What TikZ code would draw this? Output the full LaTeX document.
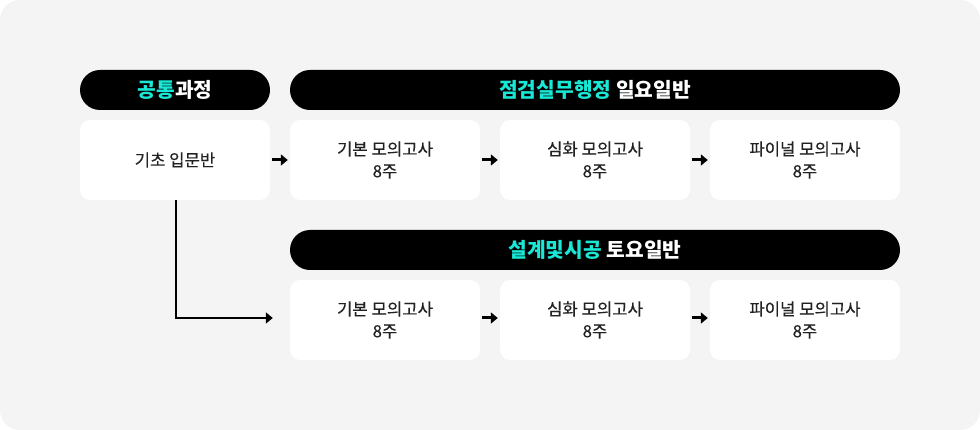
\documentclass[tikz,border=0pt]{standalone}
\usepackage{fontspec}
\setmainfont{Noto Sans CJK KR}
\newfontfamily\bodyfont{Noto Sans CJK KR}[FakeBold=0.35]
\usetikzlibrary{arrows.meta}
\definecolor{bgg}{HTML}{F4F4F4}
\definecolor{cyanx}{HTML}{1AE8D6}
\definecolor{txt}{HTML}{222222}
\tikzset{
  hdr/.style={fill=black, rounded corners=20pt, minimum height=40pt, inner sep=0pt, text=white, font=\fontsize{20.3}{22}\selectfont\bfseries},
  cbox/.style={fill=white, rounded corners=10pt, minimum width=190pt, minimum height=80pt, inner sep=0pt, text=txt, align=center, font=\bodyfont\fontsize{16.7}{22}\selectfont},
  arr/.style={line width=3pt, -{Triangle[length=7pt,width=11pt]}},
}
\begin{document}
\begin{tikzpicture}[x=1pt,y=-1pt]
\useasboundingbox (0,0) rectangle (980,430);
\fill[white] (0,0) rectangle (980,430);
\fill[bgg, rounded corners=20pt] (0,0) rectangle (980,430);
% headers
\node[hdr, minimum width=190pt] (h1) at (175,90) {\textcolor{cyanx}{공통}과정};
\node[hdr, minimum width=610pt] (h2) at (595,90) {\textcolor{cyanx}{점검실무행정} 일요일반};
\node[hdr, minimum width=610pt] (h3) at (595,250) {\textcolor{cyanx}{설계및시공} 토요일반};
% row 1
\node[cbox] (a0) at (175,160) {기초 입문반};
\node[cbox] (a1) at (385,160) {기본 모의고사\\8주};
\node[cbox] (a2) at (595,160) {심화 모의고사\\8주};
\node[cbox] (a3) at (805,160) {파이널 모의고사\\8주};
% row 2
\node[cbox] (b1) at (385,320) {기본 모의고사\\8주};
\node[cbox] (b2) at (595,320) {심화 모의고사\\8주};
\node[cbox] (b3) at (805,320) {파이널 모의고사\\8주};
% arrows
\draw[arr] ([xshift=2pt]a0.east) -- ([xshift=-2pt]a1.west);
\draw[arr] ([xshift=2pt]a1.east) -- ([xshift=-2pt]a2.west);
\draw[arr] ([xshift=2pt]a2.east) -- ([xshift=-2pt]a3.west);
\draw[arr] ([xshift=2pt,yshift=2pt]b1.east) -- ([xshift=-2pt,yshift=2pt]b2.west);
\draw[arr] ([xshift=2pt,yshift=2pt]b2.east) -- ([xshift=-2pt,yshift=2pt]b3.west);
\draw[line width=2.6pt, -{Triangle[length=7pt,width=11pt]}] ([xshift=1pt]a0.south) |- ([xshift=-17pt,yshift=2pt]b1.west);
\end{tikzpicture}
\end{document}
